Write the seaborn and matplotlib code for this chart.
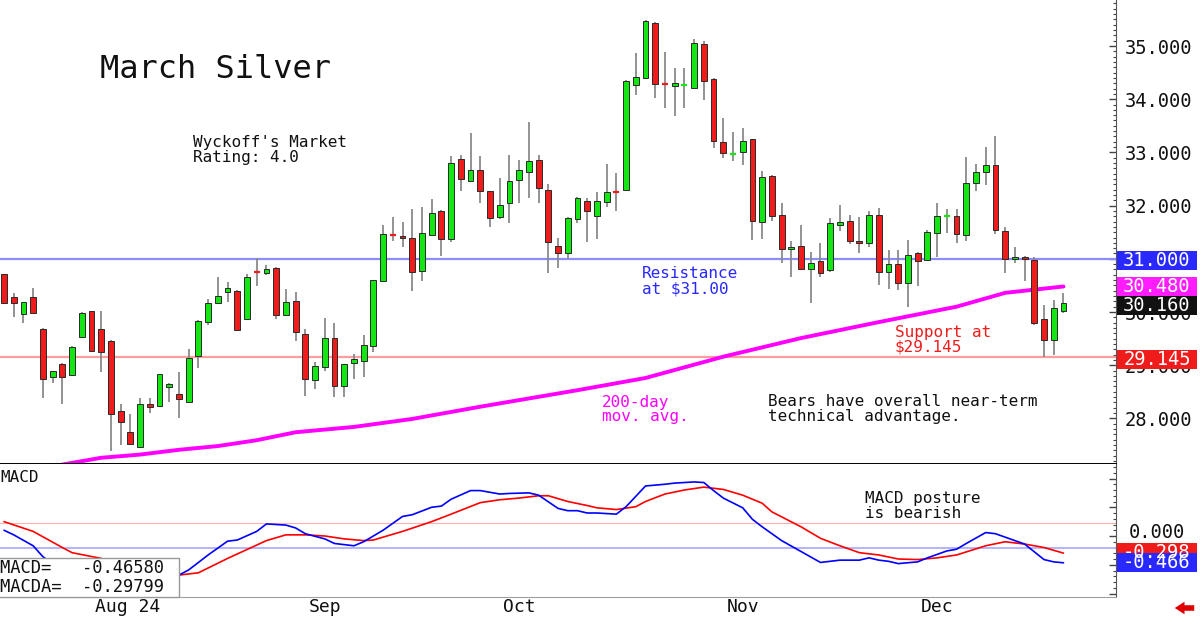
import numpy as np
import pandas as pd
import seaborn as sns
import matplotlib.pyplot as plt
import matplotlib.transforms as mtrans
from matplotlib.patches import Rectangle
from matplotlib.ticker import MultipleLocator, FormatStrFormatter, NullFormatter

# March silver daily bars, Jul 19 - Dec 23 2024
opens = [30.71, 30.28, 29.96, 30.28, 29.69, 28.78, 29.03, 28.82, 29.53, 30.01,
         29.68, 29.46, 28.13, 27.75, 27.47, 28.27, 28.24, 28.59, 28.45, 28.31,
         29.18, 29.82, 30.16, 30.37, 30.40, 29.87, 30.76, 30.73, 30.83, 29.94,
         30.21, 29.59, 28.73, 28.96, 29.51, 28.60, 29.05, 29.07, 29.37, 30.58,
         31.47, 31.43, 31.40, 30.78, 31.45, 31.90, 31.38, 32.87, 32.47, 32.67,
         32.27, 31.79, 32.05, 32.49, 32.64, 32.86, 32.29, 31.24, 31.10, 31.75,
         32.09, 31.81, 32.07, 32.27, 32.29, 34.27, 34.40, 35.43, 34.29, 34.25,
         34.26, 34.22, 35.04, 34.38, 33.19, 32.96, 33.01, 33.25, 31.70, 32.56,
         31.82, 31.18, 31.24, 30.80, 30.95, 30.79, 31.64, 31.72, 31.34, 31.30,
         31.82, 30.75, 30.90, 30.54, 31.10, 30.98, 31.48, 31.80, 31.80, 31.45,
         32.43, 32.63, 32.76, 31.52, 30.99, 31.03, 30.98, 29.87, 29.47, 30.02]
highs = [30.72, 30.36, 30.19, 30.46, 29.70, 28.90, 29.05, 29.36, 30.00, 30.02,
         30.01, 29.47, 28.28, 28.08, 28.38, 28.39, 28.84, 28.66, 28.87, 29.30,
         29.85, 30.24, 30.65, 30.57, 30.41, 30.71, 31.02, 30.88, 30.85, 30.43,
         30.37, 29.69, 29.06, 29.89, 29.80, 29.03, 29.22, 29.57, 30.61, 31.64,
         31.78, 31.70, 31.93, 31.97, 32.12, 31.91, 32.93, 32.96, 33.36, 32.93,
         32.28, 32.51, 32.95, 32.86, 33.58, 32.95, 32.41, 31.39, 31.78, 32.17,
         32.14, 32.26, 32.78, 32.61, 34.37, 34.86, 35.48, 35.46, 34.89, 34.58,
         34.58, 35.13, 35.10, 34.40, 33.64, 33.39, 33.45, 33.26, 32.66, 32.57,
         32.05, 31.34, 31.64, 31.13, 31.30, 31.76, 32.01, 31.82, 31.79, 31.89,
         31.95, 31.17, 31.17, 31.35, 31.12, 31.55, 32.04, 31.93, 31.93, 32.92,
         32.78, 33.11, 33.31, 31.60, 31.23, 31.05, 31.04, 30.13, 30.23, 30.35]
lows = [30.15, 29.91, 29.79, 29.98, 28.39, 28.66, 28.27, 28.80, 29.52, 29.25,
        28.88, 27.39, 27.50, 27.51, 27.46, 28.10, 28.23, 28.30, 28.00, 28.30,
        28.95, 29.76, 30.15, 30.19, 29.65, 29.86, 30.49, 30.70, 29.87, 29.93,
        29.46, 28.43, 28.55, 28.90, 28.40, 28.41, 28.75, 28.77, 29.25, 30.57,
        31.34, 31.22, 30.40, 30.58, 31.44, 31.05, 31.32, 32.27, 32.44, 32.04,
        31.59, 31.75, 31.67, 32.04, 32.15, 32.04, 30.74, 30.83, 30.99, 31.67,
        31.32, 31.37, 31.98, 31.89, 32.28, 34.07, 34.39, 34.03, 33.84, 33.69,
        33.84, 34.21, 33.98, 33.08, 32.90, 32.84, 32.76, 31.35, 31.37, 31.71,
        30.92, 30.66, 30.80, 30.17, 30.66, 30.76, 31.53, 31.28, 31.11, 31.23,
        30.51, 30.43, 30.41, 30.09, 30.49, 30.97, 31.04, 31.48, 31.29, 31.34,
        32.27, 32.39, 31.47, 30.74, 30.92, 30.59, 29.76, 29.15, 29.19, 29.99]
closes = [30.16, 30.16, 30.18, 29.99, 28.75, 28.89, 28.78, 29.34, 29.99, 29.27,
          29.25, 28.08, 27.94, 27.52, 28.27, 28.22, 28.83, 28.65, 28.37, 29.14,
          29.84, 30.16, 30.30, 30.45, 29.66, 30.66, 30.74, 30.81, 29.94, 30.18,
          29.62, 28.75, 28.98, 29.52, 28.61, 29.02, 29.11, 29.38, 30.60, 31.46,
          31.44, 31.40, 30.76, 31.48, 31.86, 31.37, 32.80, 32.50, 32.67, 32.27,
          31.77, 32.01, 32.46, 32.67, 32.83, 32.34, 31.32, 31.11, 31.76, 32.14,
          31.89, 32.09, 32.26, 32.25, 34.34, 34.41, 35.47, 34.29, 34.28, 34.30,
          34.28, 35.05, 34.34, 33.21, 32.98, 32.98, 33.22, 31.72, 32.54, 31.81,
          31.18, 31.22, 30.81, 30.93, 30.74, 31.67, 31.70, 31.33, 31.29, 31.82,
          30.76, 30.90, 30.54, 31.07, 30.96, 31.50, 31.80, 31.82, 31.47, 32.42,
          32.63, 32.76, 31.55, 30.99, 31.03, 30.99, 29.80, 29.47, 30.07, 30.16]

# 200-day moving average, read at a few bars
ma_idx = [5, 10, 14, 18, 22, 26, 30, 36, 42, 49, 59, 66, 74, 82, 90, 98, 103, 109]
ma_val = [27.10, 27.26, 27.32, 27.41, 27.48, 27.59, 27.74, 27.84, 27.99, 28.22,
          28.53, 28.76, 29.16, 29.51, 29.81, 30.10, 30.36, 30.48]

# MACD (blue) and its average (red)
macd_idx = [0, 1, 3, 4, 6, 9, 12, 15, 17, 18, 19, 21, 23, 24, 26, 27, 29, 30, 31, 33,
            34, 36, 37, 39, 41, 42, 44, 45, 46, 48, 49, 51, 52, 54, 55, 57, 58, 59, 60, 61,
            63, 64, 66, 68, 69, 71, 72, 73, 74, 76, 77, 78, 80, 82, 84, 86, 88, 89, 90, 91,
            92, 94, 95, 97, 98, 99, 101, 102, 104, 105, 107, 108, 109]
macd_val = [0.10, 0.02, -0.17, -0.36, -0.60, -0.80, -0.95, -0.90, -0.76, -0.68,
            -0.59, -0.33, -0.09, -0.07, 0.08, 0.21, 0.19, 0.14, 0.04, -0.05,
            -0.13, -0.17, -0.10, 0.10, 0.34, 0.37, 0.50, 0.52, 0.64, 0.79,
            0.79, 0.73, 0.74, 0.75, 0.71, 0.48, 0.44, 0.44, 0.40, 0.40,
            0.38, 0.51, 0.87, 0.90, 0.92, 0.94, 0.93, 0.79, 0.66, 0.49,
            0.29, 0.16, -0.08, -0.27, -0.46, -0.42, -0.42, -0.38, -0.42, -0.44,
            -0.48, -0.45, -0.38, -0.26, -0.23, -0.13, 0.06, 0.04, -0.08, -0.14,
            -0.41, -0.45, -0.466]
sig_idx = [0, 3, 6, 7, 10, 13, 16, 18, 20, 23, 27, 29, 31, 33, 35, 37, 38, 41, 44, 46,
           49, 51, 53, 55, 56, 58, 60, 61, 63, 65, 66, 68, 70, 72, 74, 76, 78, 79, 82, 84,
           86, 88, 90, 92, 94, 96, 98, 101, 103, 105, 107, 109]
sig_val = [0.25, 0.08, -0.20, -0.29, -0.39, -0.55, -0.65, -0.68, -0.64, -0.39,
           -0.08, 0.02, 0.02, 0.00, -0.05, -0.08, -0.07, 0.08, 0.25, 0.38,
           0.58, 0.63, 0.66, 0.70, 0.70, 0.60, 0.53, 0.49, 0.46, 0.51,
           0.60, 0.73, 0.80, 0.85, 0.81, 0.71, 0.57, 0.42, 0.16, -0.04,
           -0.17, -0.29, -0.33, -0.40, -0.41, -0.38, -0.33, -0.17, -0.10, -0.14,
           -0.20, -0.298]

month_labels = ["Aug 24", "Sep", "Oct", "Nov", "Dec"]
resistance = 31.00
support = 29.145

# trading days -> first bar of each month
dates = pd.bdate_range("2024-07-19", "2024-12-23")
dates = dates[~dates.isin(pd.to_datetime(["2024-09-02", "2024-11-28"]))]
month_pos = [int(np.argmax(dates.month == m)) for m in (8, 9, 10, 11, 12)]

GREEN = "#14e614"
RED = "#f01c1c"
BLUE = "#2828ff"
MAG = "#ff1cff"

sns.set_style("white")
plt.rcParams["font.family"] = ["DejaVu Sans Mono", "DejaVu Sans"]

W, H = 1200, 619
fig = plt.figure(figsize=(W / 100, H / 100), dpi=100)
ax = fig.add_axes([0, 1 - 464 / H, 1116 / W, 464 / H])
axm = fig.add_axes([0, 1 - 597 / H, 1116 / W, 133 / H], sharex=ax)

df = pd.DataFrame({"open": opens, "high": highs, "low": lows, "close": closes})
df["i"] = np.arange(len(df))
df["up"] = df["close"] >= df["open"]
df["lo"] = df[["open", "close"]].min(axis=1)
df["h"] = (df["close"] - df["open"]).abs()

ax.axhline(resistance, color="#8c8cff", lw=1.6, zorder=1)
ax.axhline(support, color="#ff9c9c", lw=1.6, zorder=1)

ax.vlines(df["i"], df["low"], df["high"], color="#8a8a8a", lw=1.3, zorder=2)
body = df[df["h"] >= 0.03]
ax.bar(body["i"], body["h"], bottom=body["lo"], width=0.6,
       color=np.where(body["up"], GREEN, RED), edgecolor="#2a2a2a",
       linewidth=0.7, zorder=3)
doji = df[df["h"] < 0.03]
ax.hlines((doji["open"] + doji["close"]) / 2, doji["i"] - 0.3, doji["i"] + 0.3,
          colors=np.where(doji["up"], GREEN, RED), lw=1.6, zorder=3)

sns.lineplot(x=ma_idx, y=ma_val, ax=ax, color="#ff00ff", linewidth=2.8,
             estimator=None, sort=False, legend=False, zorder=2.5)

ax.set_xlim(-4 / 9.72, 1112 / 9.72)
ax.set_ylim(27.143, 35.865)
ax.set_xlabel("")
ax.set_ylabel("")
ax.yaxis.tick_right()
ax.yaxis.set_major_locator(MultipleLocator(1))
ax.yaxis.set_minor_locator(MultipleLocator(0.1))
ax.yaxis.set_major_formatter(FormatStrFormatter("%.3f"))
ax.tick_params(axis="y", which="major", direction="in", length=5, width=1,
               color="#444", labelsize=13.5, pad=6, labelcolor="#111")
ax.tick_params(axis="y", which="minor", direction="in", length=2.5, width=0.8, color="#444")
ax.tick_params(axis="x", which="both", bottom=False, labelbottom=False)
ax.spines[["top", "left"]].set_visible(False)
ax.spines["bottom"].set_color("black")
ax.spines["bottom"].set_linewidth(1.4)
ax.spines["right"].set_color("#555")

# MACD panel
axm.axhline(0.226, color="#ffb0b0", lw=0.8, zorder=1)
axm.axhline(-0.209, color="#b4b4ff", lw=1.4, zorder=1)
sns.lineplot(x=sig_idx, y=sig_val, ax=axm, color="#ff0000", linewidth=1.2,
             estimator=None, sort=False, legend=False)
sns.lineplot(x=macd_idx, y=macd_val, ax=axm, color="#0000ff", linewidth=1.2,
             estimator=None, sort=False, legend=False)
axm.set_ylim(-61 / 57.5, 72 / 57.5)
axm.set_xlabel("")
axm.set_ylabel("")
axm.yaxis.tick_right()
axm.yaxis.set_major_locator(MultipleLocator(0.5))
axm.yaxis.set_minor_locator(MultipleLocator(0.1))
axm.yaxis.set_major_formatter(NullFormatter())
axm.tick_params(axis="y", which="major", direction="in", length=5, width=1, color="#444")
axm.tick_params(axis="y", which="minor", direction="in", length=2.5, width=0.8, color="#444")
axm.set_xticks(month_pos)
axm.tick_params(axis="x", direction="out", length=16, width=1, color="#999",
                labelbottom=False)
axm.spines[["top", "left"]].set_visible(False)
axm.spines["bottom"].set_color("#a0a0a0")
axm.spines["right"].set_color("#555")

mtr = mtrans.blended_transform_factory(axm.transData, axm.transAxes)
for p, lab in zip(month_pos, month_labels):
    axm.text(p + 0.35, -0.075, lab, transform=mtr, ha="left", va="center",
             fontsize=13, color="#111", clip_on=False)

axm.text(0.0, 0.902, "MACD", transform=axm.transAxes, fontsize=11.5,
         ha="left", va="center", color="#111")
axm.add_patch(Rectangle((-0.01, 0), 179 / 1116 + 0.01, 39 / 133, transform=axm.transAxes,
                        facecolor="white", edgecolor="#999", lw=1, zorder=5, clip_on=False))
axm.text(0.0, (597 - 577.5) / 133, "MACD=   %.5f\nMACDA=  %.5f" % (-0.46580, -0.29799),
         transform=axm.transAxes, fontsize=12.3, ha="left", va="center",
         linespacing=1.05, color="#111", zorder=6)


def fx(x):
    return x / W


def fy(y):
    return 1 - y / H


fig.text(fx(100), fy(70), "March Silver", fontsize=23, ha="left", va="center", color="#111")
fig.text(fx(193), fy(150), "Wyckoff's Market\nRating: 4.0", fontsize=11.5,
         ha="left", va="center", linespacing=1.0, color="#111")
fig.text(fx(642), fy(281), "Resistance\nat $31.00", fontsize=11.5,
         ha="left", va="center", linespacing=1.0, color=BLUE)
fig.text(fx(895), fy(339.5), "Support at\n$29.145", fontsize=11.5,
         ha="left", va="center", linespacing=1.0, color=RED)
fig.text(fx(602), fy(409.5), "200-day\nmov. avg.", fontsize=11.5,
         ha="left", va="center", linespacing=1.0, color="#ff00ff")
fig.text(fx(768), fy(409.5), "Bears have overall near-term\ntechnical advantage.",
         fontsize=11.5, ha="left", va="center", linespacing=1.0, color="#111")
fig.text(fx(865), fy(505.5), "MACD posture\nis bearish", fontsize=11.5,
         ha="left", va="center", linespacing=1.0, color="#111")


# value tags on the right scale
def tag(axis, value, label, color, dy=0.0):
    ypix = axis.transData.transform((0, value))[1] - dy
    ident = mtrans.IdentityTransform()
    fig.add_artist(Rectangle((1117, ypix - 9.5), 80, 19, transform=ident,
                             facecolor=color, edgecolor="none", zorder=8))
    fig.add_artist(plt.Text(1157, ypix, label, transform=ident, ha="center", va="center",
                            fontsize=13.5, color="white", zorder=9,
                            family=["DejaVu Sans Mono"]))


tag(ax, resistance, "%.3f" % resistance, BLUE, dy=2)
tag(ax, ma_val[-1], "%.3f" % ma_val[-1], MAG, dy=0)
tag(ax, closes[-1], "%.3f" % closes[-1], "#111111", dy=2.5)
tag(ax, support, "%.3f" % support, RED, dy=2.5)

zpix = axm.transData.transform((0, 0))[1]
fig.text(1157 / W, (zpix + 4) / H, "0.000", ha="center", va="center",
         fontsize=13.5, color="#111", zorder=7)
tag(axm, sig_val[-1], "%.3f" % sig_val[-1], RED, dy=-1)
tag(axm, macd_val[-1], "%.3f" % macd_val[-1], BLUE, dy=0)

axm.annotate("", xy=(1172, 11), xytext=(1197, 11), xycoords="figure pixels",
             textcoords="figure pixels", annotation_clip=False,
             arrowprops=dict(arrowstyle="simple,head_length=0.7,head_width=0.9,tail_width=0.4",
                             color="#e00000", lw=0))

fig.savefig("out.png", dpi=100)
